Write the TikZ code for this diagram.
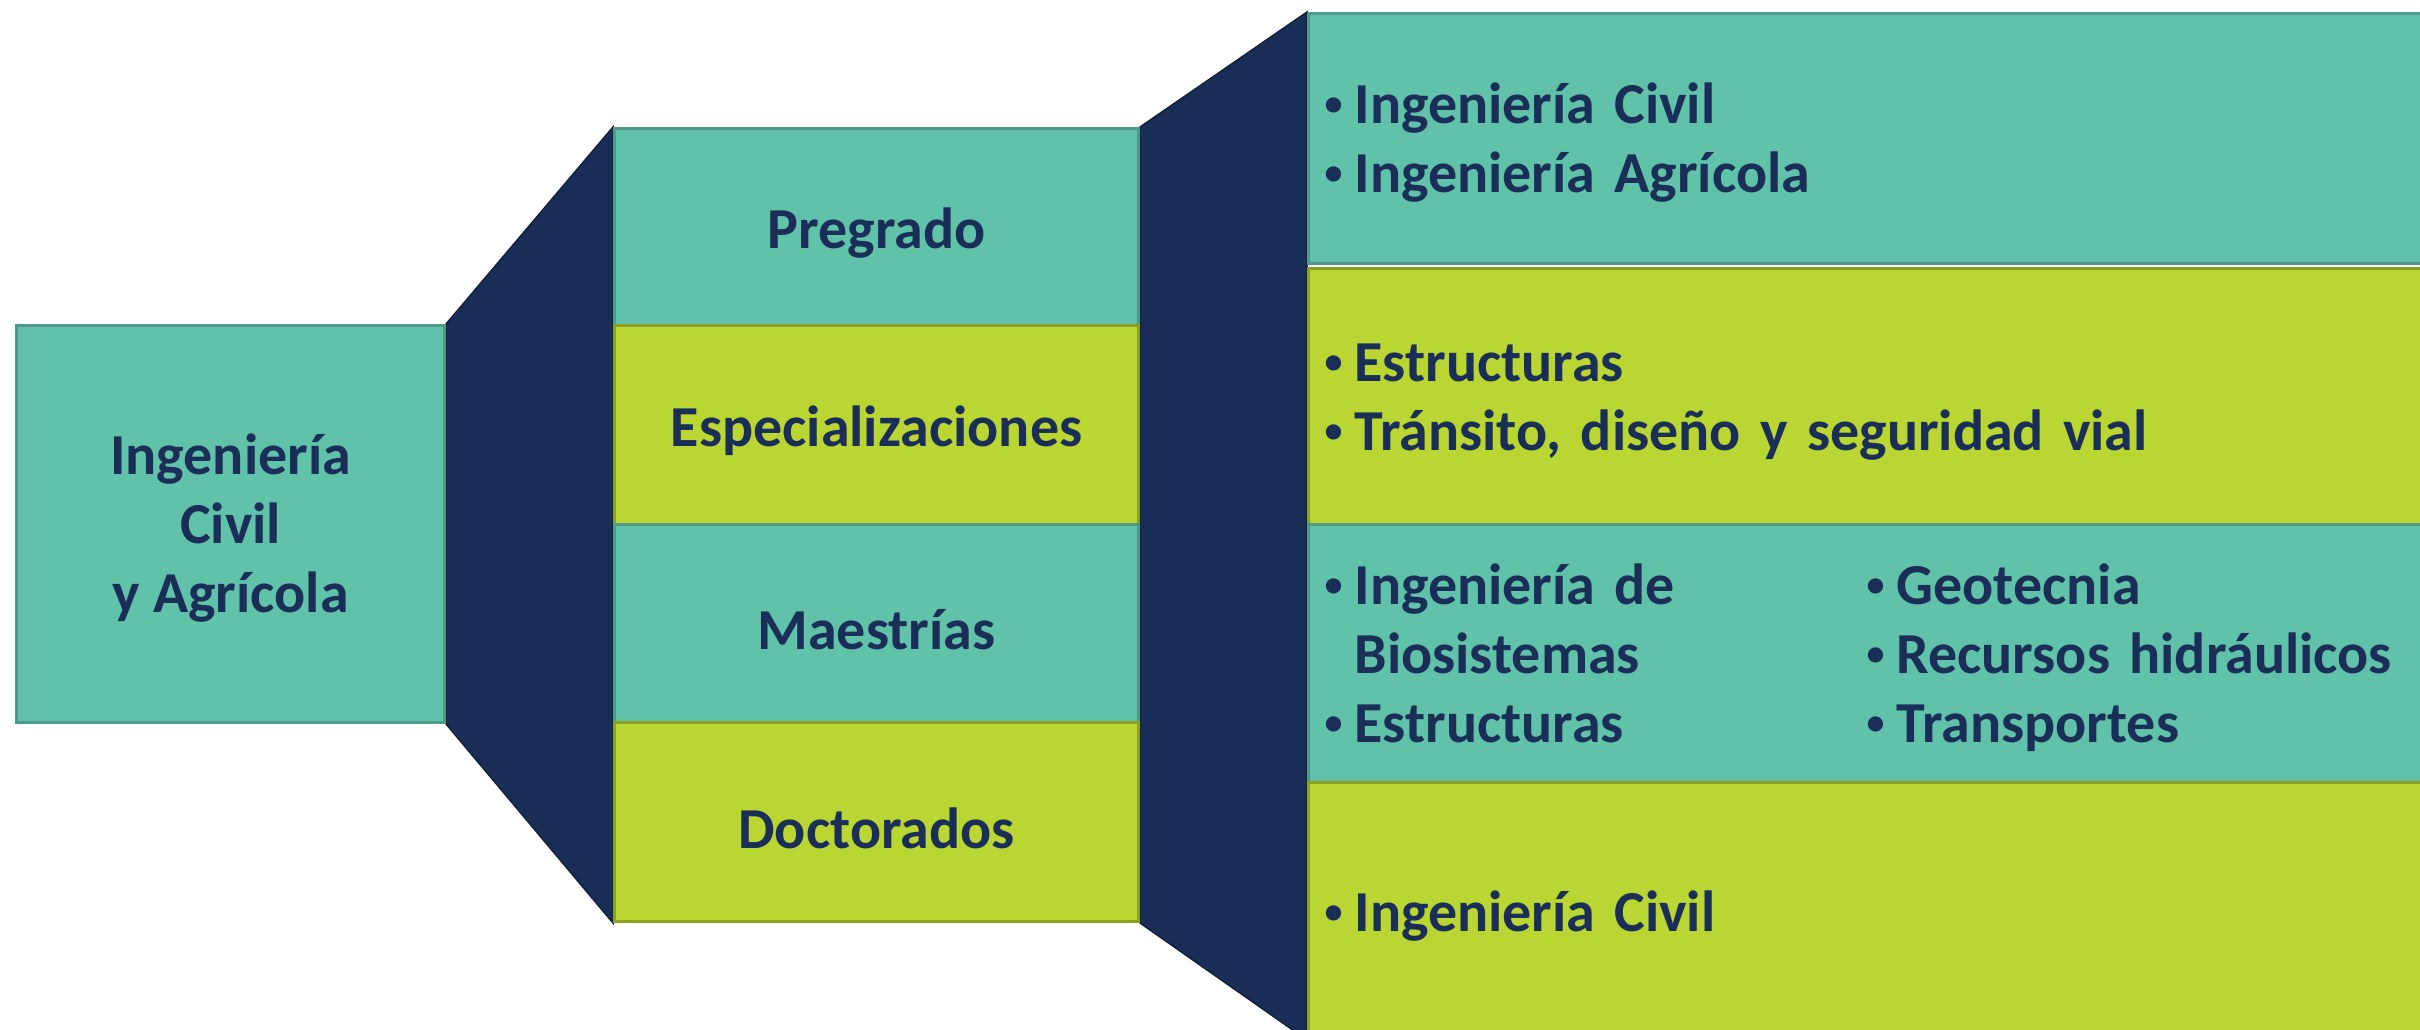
\documentclass[tikz,border=0pt]{standalone}
\usepackage{fontspec}
\setmainfont{Carlito}
\usetikzlibrary{backgrounds}
\definecolor{cteal}{HTML}{5FC2A9}
\definecolor{ctealdark}{HTML}{4E9A87}
\definecolor{clime}{HTML}{BAD632}
\definecolor{climedark}{HTML}{8CA024}
\definecolor{cnavy}{HTML}{1A2D56}
\definecolor{cnavydark}{HTML}{13213F}
\definecolor{ctext}{HTML}{1B2E58}
\newcommand\bul{\makebox[26pt][c]{\raisebox{8pt}{\fontsize{36}{36}\selectfont •}}\hspace{8pt}}
\newcommand\nobul{\hspace{34pt}}
\newcommand\dn[1]{\raisebox{-6pt}[\height][\depth]{#1}}
\tikzset{
  basebox/.style={draw, line width=3pt, inner sep=0pt, anchor=north west,
    font=\fontsize{58}{69}\selectfont\bfseries, text=ctext},
  tealbox/.style={basebox, fill=cteal, draw=ctealdark},
  limebox/.style={basebox, fill=clime, draw=climedark},
  midbox/.style={minimum width=524pt},
  rightbox/.style={inner xsep=12pt, text width=1106pt, align=left},
  funnel/.style={fill=cnavy, draw=cnavydark, line width=1.5pt, line join=miter},
}
\begin{document}
\begin{tikzpicture}[x=1pt,y=-1pt]
\clip (0,0) rectangle (2420,1029);
% left box
\node[tealbox, minimum width=428pt, minimum height=397pt] (root) at (15,324)
  {\dn{\begin{tabular}{@{}c@{}}Ingeniería\\Civil\\y Agrícola\end{tabular}}};
% middle column
\node[tealbox, midbox, minimum height=197pt] (preg) at (613,127) {\dn{Pregrado}};
\node[limebox, midbox, minimum height=199pt] (esp) at (613,324) {\dn{Especializaciones}};
\node[tealbox, midbox, minimum height=198pt] (mae) at (613,523) {\dn{Maestrías}};
\node[limebox, midbox, minimum height=199pt] (doc) at (613,721) {\dn{Doctorados}};
% right column
\node[tealbox, rightbox, minimum height=250pt] (r1) at (1307,12)
  {\dn{\begin{tabular}{@{}l@{}}\bul Ingeniería Civil\\\bul Ingeniería Agrícola\end{tabular}}};
\node[limebox, rightbox, minimum height=256pt] (r2) at (1307,267)
  {\dn{\begin{tabular}{@{}l@{}}\bul Estructuras\\\bul Tránsito, diseño y seguridad vial\end{tabular}}};
\node[tealbox, rightbox, minimum height=258pt] (r3) at (1307,523) {\dn{\begin{tabular}{@{}p{542pt}@{}l@{}}
\bul Ingeniería de & \bul Geotecnia\\
\nobul Biosistemas & \bul Recursos hidráulicos\\
\bul Estructuras & \bul Transportes
\end{tabular}}};
\node[limebox, rightbox, minimum height=256pt] (r4) at (1307,781) {\dn{\bul Ingeniería Civil}};
% funnels
\begin{scope}[on background layer]
\filldraw[funnel] (root.north east) -- (preg.north west) -- (doc.south west) -- (root.south east) -- cycle;
\filldraw[funnel] (preg.north east) -- (r1.north west) -- (r4.south west) -- (doc.south east) -- cycle;
\end{scope}
\end{tikzpicture}
\end{document}
